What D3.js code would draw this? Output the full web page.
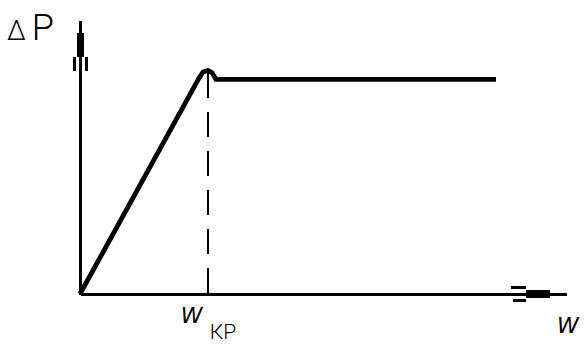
<!DOCTYPE html>
<html>
<head>
<meta charset="utf-8">
<script src="https://cdn.jsdelivr.net/npm/d3@7"></script>
<style>
  html, body { margin: 0; padding: 0; background: #fff; }
  svg { display: block; }
</style>
</head>
<body>
<svg id="chart" width="587" height="345"></svg>
<script>
// flow (W) vs pressure drop (ΔP), arbitrary units
const curveW  = [0, 2.44, 2.53, 2.63, 2.72, 2.80, 8.56];
const curveDP = [0, 7.85, 8.10, 8.16, 8.07, 7.83, 7.83];
const criticalW = 2.63;
const criticalDP = 8.05;
const yLabel = "P";
const yLabelPrefix = "Δ";
const xLabel = "W";
const critSub = "КР";

const svg = d3.select("#chart");
const width = 587;
const height = 345;
const margin = { top: 20, right: 21, bottom: 51, left: 80 };

const x = d3.scaleLinear()
    .domain([0, 10])
    .range([margin.left, width - margin.right]);

const y = d3.scaleLinear()
    .domain([0, 10])
    .range([height - margin.bottom, margin.top]);

const points = curveW.map((w, i) => ({ w: w, dp: curveDP[i] }));

// axes: bare lines, no ticks
const xAxis = g => g
    .attr("transform", `translate(0, ${y(0)})`)
    .call(d3.axisBottom(x).ticks(0).tickSize(0).tickSizeOuter(0))
    .call(g => g.select(".domain").attr("stroke", "#000").attr("stroke-width", 3));

const yAxis = g => g
    .attr("transform", `translate(${x(0)}, 0)`)
    .call(d3.axisLeft(y).ticks(0).tickSize(0).tickSizeOuter(0))
    .call(g => g.select(".domain").attr("stroke", "#000").attr("stroke-width", 2.5));

svg.append("g").attr("shape-rendering", "crispEdges").call(xAxis);
svg.append("g").attr("shape-rendering", "crispEdges").call(yAxis);

// feathered arrow ends
const yTop = y(10);
const yArrow = svg.append("g").attr("fill", "#000").attr("shape-rendering", "crispEdges");
yArrow.append("rect").attr("x", x(0) - 3.5).attr("y", yTop + 13).attr("width", 7).attr("height", 24);
yArrow.append("rect").attr("x", x(0) - 7).attr("y", yTop + 37).attr("width", 3).attr("height", 14);
yArrow.append("rect").attr("x", x(0) + 5).attr("y", yTop + 37).attr("width", 3).attr("height", 14);

const xEnd = x(10);
const xArrow = svg.append("g").attr("fill", "#000").attr("shape-rendering", "crispEdges");
xArrow.append("rect").attr("x", xEnd - 40).attr("y", y(0) - 4).attr("width", 24).attr("height", 8);
xArrow.append("rect").attr("x", xEnd - 55).attr("y", y(0) - 8).attr("width", 15).attr("height", 2.5);
xArrow.append("rect").attr("x", xEnd - 53).attr("y", y(0) + 5).attr("width", 13).attr("height", 2.5);

// critical flow marker
svg.append("line")
    .attr("x1", x(criticalW))
    .attr("x2", x(criticalW))
    .attr("y1", y(criticalDP))
    .attr("y2", y(0))
    .attr("stroke", "#000")
    .attr("stroke-width", 2)
    .attr("stroke-dasharray", "25,14")
    .attr("shape-rendering", "crispEdges");

// characteristic
const line = d3.line()
    .x(d => x(d.w))
    .y(d => y(d.dp));

svg.append("path")
    .datum(points)
    .attr("d", line)
    .attr("fill", "none")
    .attr("stroke", "#000")
    .attr("stroke-width", 4.8)
    .attr("stroke-linejoin", "round");

// labels
const yText = svg.append("text")
    .attr("x", 7)
    .attr("y", 40)
    .attr("font-family", "Roboto, 'DejaVu Sans', sans-serif")
    .attr("font-weight", 300)
    .attr("fill", "#000");
yText.append("tspan").attr("font-size", 27).text(yLabelPrefix);
yText.append("tspan").attr("font-size", 36).attr("dx", 6).text(yLabel);

svg.append("text")
    .attr("x", x(criticalW) - 27)
    .attr("y", 323)
    .attr("font-family", "'DejaVu Sans', sans-serif")
    .attr("font-style", "italic")
    .attr("font-size", 22)
    .attr("fill", "#000")
    .text(xLabel);

svg.append("text")
    .attr("x", x(criticalW) + 2)
    .attr("y", 339)
    .attr("font-family", "Roboto, 'DejaVu Sans', sans-serif")
    .attr("font-weight", 300)
    .attr("font-size", 21)
    .attr("fill", "#000")
    .text(critSub);

svg.append("text")
    .attr("x", 557)
    .attr("y", 333)
    .attr("font-family", "'DejaVu Sans', sans-serif")
    .attr("font-style", "italic")
    .attr("font-size", 22)
    .attr("fill", "#000")
    .text(xLabel);
</script>
</body>
</html>
